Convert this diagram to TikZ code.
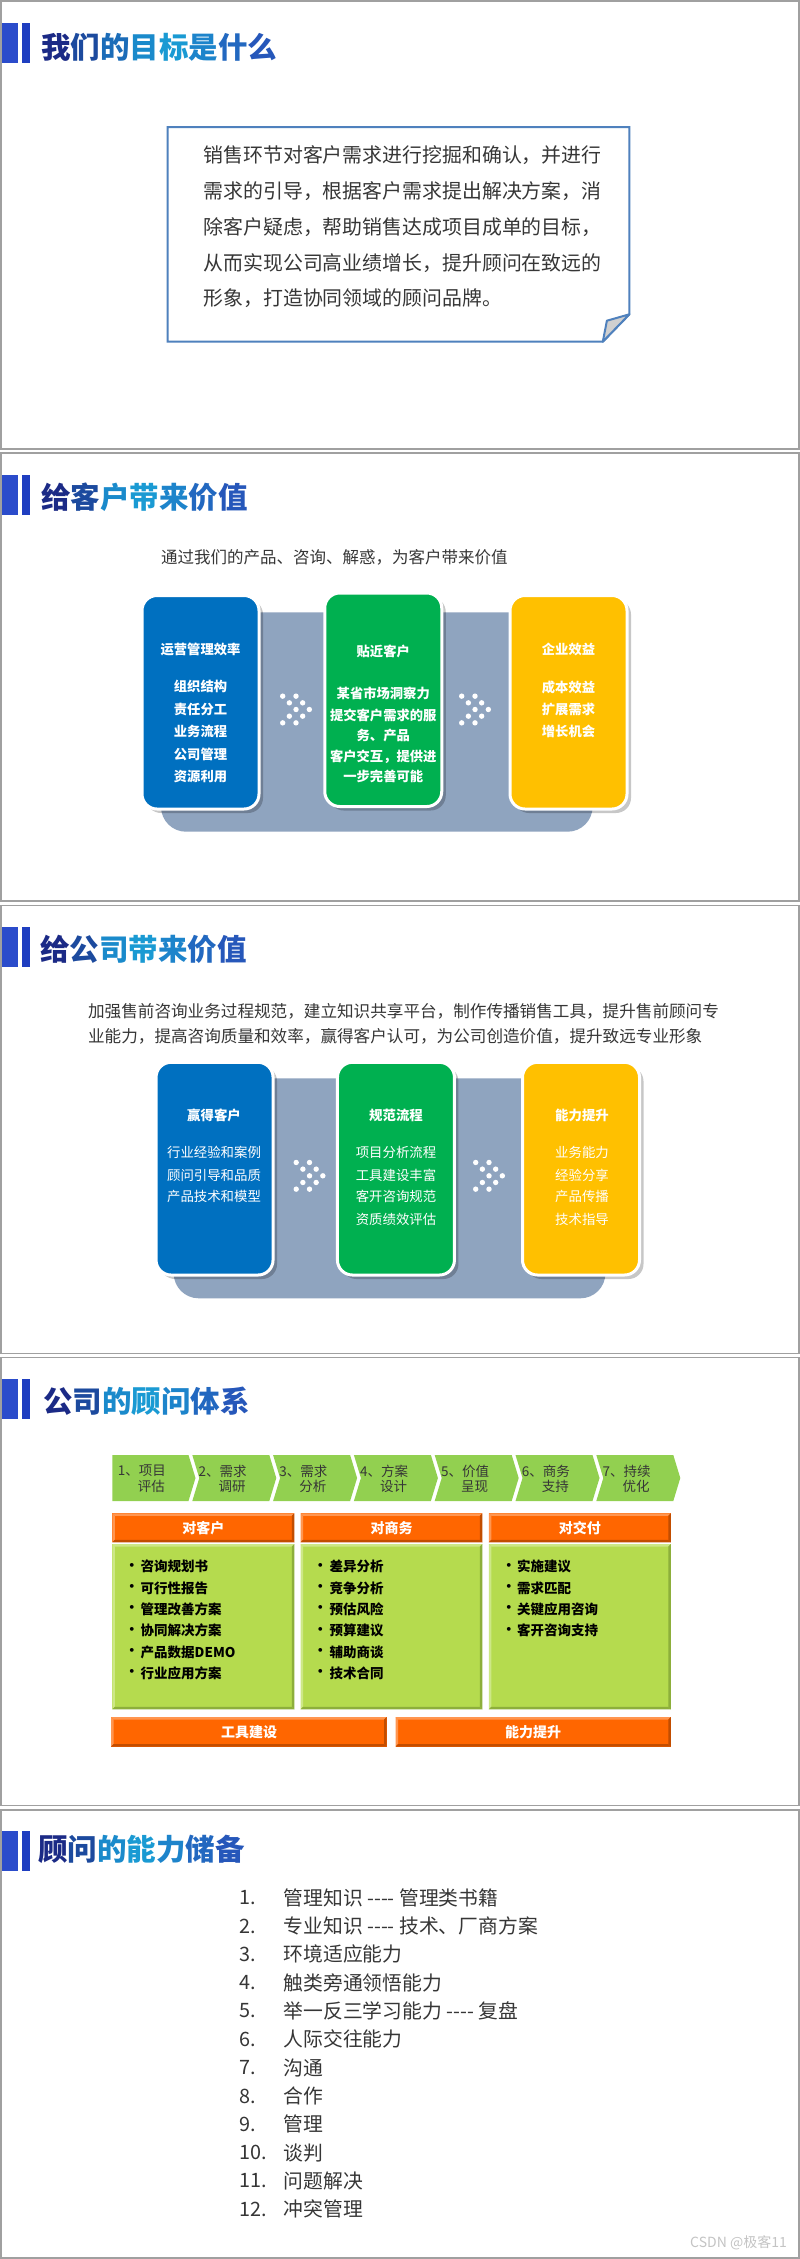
\documentclass[tikz,border=0pt]{standalone}
\usepackage{fontspec}
\setmainfont{Noto Sans CJK SC}
\usetikzlibrary{shadows}
\definecolor{frame}{HTML}{A0A0A0}
\definecolor{barA}{HTML}{2B4CCB}
\definecolor{barB}{HTML}{1F3EC0}
\definecolor{tg1}{HTML}{1B2A86}
\definecolor{tg2}{HTML}{1C4A9E}
\definecolor{tg3}{HTML}{1B6CB8}
\definecolor{tg4}{HTML}{1A8ACB}
\definecolor{tg5}{HTML}{1A9AD3}
\definecolor{tg6}{HTML}{1D84CB}
\definecolor{tg7}{HTML}{2268C0}
\definecolor{tg8}{HTML}{2657BA}
\definecolor{txt}{HTML}{363636}
\definecolor{boxblue}{HTML}{4F81BD}
\definecolor{flap}{HTML}{D0D0D0}
\definecolor{slate}{HTML}{8FA4BF}
\definecolor{cblue}{HTML}{0070C0}
\definecolor{cgreen}{HTML}{00B050}
\definecolor{cyellow}{HTML}{FFC000}
\definecolor{chev}{HTML}{92D050}
\definecolor{org}{HTML}{FF6600}
\definecolor{orgL}{HTML}{FF9650}
\definecolor{orgD}{HTML}{C24D00}
\definecolor{lg}{HTML}{B5DB4E}
\definecolor{lgL}{HTML}{CDE886}
\definecolor{lgD}{HTML}{8DAF3B}
\definecolor{wm}{HTML}{C4C4C4}
\newcommand\tc[1]{\color{tg#1}}
\newcommand\fs[1]{\fontsize{#1}{#1}\selectfont}
\newcommand\hy{-\kern0pt-\kern0pt-\kern0pt-}
\newcommand\bevelbox[8]{%
  \fill[#5] (#1,#2) rectangle (#3,#4);
  \fill[#6] (#1,#2) -- (#3,#2) -- (#3-#8,#2+#8) -- (#1+#8,#2+#8) -- cycle;
  \fill[#6] (#1,#2) -- (#1+#8,#2+#8) -- (#1+#8,#4-#8) -- (#1,#4) -- cycle;
  \fill[#7] (#1,#4) -- (#1+#8,#4-#8) -- (#3-#8,#4-#8) -- (#3,#4) -- cycle;
  \fill[#7] (#3,#2) -- (#3,#4) -- (#3-#8,#4-#8) -- (#3-#8,#2+#8) -- cycle;
}
\newcommand\dotgroup[2]{%
  \foreach \r in {-2,-1,0,1,2}{%
    \pgfmathsetmacro\kk{2-abs(\r)}%
    \fill[white] ({#1-13.3+6.67*\kk},{#2+6.67*\r}) circle[radius=2.7pt];
    \fill[white] ({#1+6.67*\kk},{#2+6.67*\r}) circle[radius=2.7pt];
  }%
}
\newcommand\headbars[1]{%
  \fill[barA] (2,#1) rectangle (18,#1+40);
  \fill[barB] (22,#1) rectangle (30,#1+40);
}
\begin{document}
\begin{tikzpicture}[x=1pt,y=-1pt,
  slideframe/.style={draw=frame, line width=1.5pt},
  ttl/.style={anchor=west, inner sep=0pt, font=\fs{29.5}\bfseries},
  para/.style={anchor=west, inner sep=0pt, text=txt},
  ctxt/.style={inner sep=0pt, text=white, font=\fs{13.3}\bfseries},
  ctxtl/.style={inner sep=0pt, text=white, font=\fs{13.4}},
  card/.style={draw=white, line width=3pt, rounded corners=15pt, inner sep=0pt,
    minimum width=117pt, minimum height=213.5pt,
    drop shadow={shadow xshift=4pt, shadow yshift=-4pt, fill=black, opacity=0.22}},
  chevtxt/.style={anchor=east, inner sep=0pt, text=txt, font=\fs{13.5}},
  hdtxt/.style={inner sep=0pt, text=white, font=\fs{14}\bfseries},
  item/.style={anchor=west, inner sep=0pt, text=black, font=\fs{13.5}\bfseries},
  listtxt/.style={anchor=west, inner sep=0pt, text=txt, font=\fs{19.8}}]
\useasboundingbox (0,0) rectangle (800,2259);
\fill[white] (0,0) rectangle (800,2259);

% slide frames
\foreach \k in {0,...,4}{
  \draw[slideframe] (1,{1+452.2*\k}) rectangle (799,{449+452.2*\k});
}

% ---------- Slide 1 ----------
\headbars{23}
\node[ttl] (t1) at (41,47.5) {\tc1我\tc2们\tc3的\tc4目\tc5标\tc6是\tc7什\tc8么};
\draw[boxblue, line width=2pt, fill=white, line join=miter]
  (167.6,127) -- (629.4,127) -- (629.4,314.3) -- (602.8,341.7) -- (167.6,341.7) -- cycle;
\filldraw[draw=boxblue, fill=flap, line width=2pt, line join=round]
  (629.4,314.3) -- (606.9,320.7) -- (602.8,341.7) -- cycle;
\begin{scope}[every node/.style={para, font=\fs{19.9}}]
\node (g1) at (203.3,155) {销售环节对客户需求进行挖掘和确认，并进行};
\node (g2) at (203.3,190.7) {需求的引导，根据客户需求提出解决方案，消};
\node (g3) at (203.3,226.7) {除客户疑虑，帮助销售达成项目成单的目标，};
\node (g4) at (203.3,262.7) {从而实现公司高业绩增长，提升顾问在致远的};
\node (g5) at (203.3,298.3) {形象，打造协同领域的顾问品牌。};
\end{scope}

% ---------- Slide 2 ----------
\headbars{475}
\node[ttl] (t2) at (41,497.5) {\tc1给\tc2客\tc4户\tc5带\tc6来\tc7价\tc8值};
\node[para, font=\fs{16.5}] (sub2) at (161,557) {通过我们的产品、咨询、解惑，为客户带来价值};
\fill[slate, rounded corners=25pt] (161,612.3) rectangle (592.6,831.7);
\node[card, fill=cblue] (c2a) at (200.5,702.25) {};
\node[card, fill=cgreen] (c2b) at (383.25,699.75) {};
\node[card, fill=cyellow] (c2c) at (568.5,702.25) {};
\dotgroup{296}{709.5}
\dotgroup{475}{709.5}
\node[ctxt] (a0) at (200.5,649.3) {运营管理效率};
\node[ctxt] (a1) at (200.5,686.7) {组织结构};
\node[ctxt] (a2) at (200.5,709.3) {责任分工};
\node[ctxt] (a3) at (200.5,731.7) {业务流程};
\node[ctxt] (a4) at (200.5,754) {公司管理};
\node[ctxt] (a5) at (200.5,776) {资源利用};
\node[ctxt] (b0) at (383.25,651.7) {贴近客户};
\node[ctxt] (b1) at (383.25,693.3) {某省市场洞察力};
\node[ctxt] (b2) at (383.25,715.7) {提交客户需求的服};
\node[ctxt] (b3) at (383.25,735) {务、产品};
\node[ctxt] (b4) at (383.25,756.7) {客户交互，提供进};
\node[ctxt] (b5) at (383.25,776) {一步完善可能};
\node[ctxt] (d0) at (568.5,649.3) {企业效益};
\node[ctxt] (d1) at (568.5,687.3) {成本效益};
\node[ctxt] (d2) at (568.5,709.3) {扩展需求};
\node[ctxt] (d3) at (568.5,731.7) {增长机会};

% ---------- Slide 3 ----------
\headbars{927}
\node[ttl] (t3) at (40,949) {\tc1给\tc2公\tc4司\tc5带\tc6来\tc7价\tc8值};
\node[para, font=\fs{16.6}] (p3a) at (87.9,1011.7) {加强售前咨询业务过程规范，建立知识共享平台，制作传播销售工具，提升售前顾问专};
\node[para, font=\fs{16.6}] (p3b) at (87.9,1036.7) {业能力，提高咨询质量和效率，赢得客户认可，为公司创造价值，提升致远专业形象};
\fill[slate, rounded corners=25pt] (173.7,1078.3) rectangle (605.4,1298.3);
\node[card, fill=cblue, minimum height=212.7pt] (c3a) at (214.55,1168.65) {};
\node[card, fill=cgreen, minimum height=212.7pt] (c3b) at (395.95,1168.65) {};
\node[card, fill=cyellow, minimum height=212.7pt] (c3c) at (581,1168.65) {};
\dotgroup{309.5}{1175.8}
\dotgroup{489}{1175.8}
\node[ctxt, font=\fs{13.4}\bfseries] (e0) at (214,1115) {赢得客户};
\node[ctxtl] (e1) at (214,1152.3) {行业经验和案例};
\node[ctxtl] (e2) at (214,1175) {顾问引导和品质};
\node[ctxtl] (e3) at (214,1196.7) {产品技术和模型};
\node[ctxt, font=\fs{13.4}\bfseries] (f0) at (396,1115) {规范流程};
\node[ctxtl] (f1) at (396,1152.3) {项目分析流程};
\node[ctxtl] (f2) at (396,1175) {工具建设丰富};
\node[ctxtl] (f3) at (396,1196.7) {客开咨询规范};
\node[ctxtl] (f4) at (396,1219) {资质绩效评估};
\node[ctxt, font=\fs{13.4}\bfseries] (h0) at (582,1115) {能力提升};
\node[ctxtl] (h1) at (582,1152.3) {业务能力};
\node[ctxtl] (h2) at (582,1175) {经验分享};
\node[ctxtl] (h3) at (582,1196.7) {产品传播};
\node[ctxtl] (h4) at (582,1219) {技术指导};

% ---------- Slide 4 ----------
\headbars{1379}
\node[ttl] (t4) at (43,1401) {\tc1公\tc2司\tc4的\tc5顾\tc6问\tc7体\tc8系};
\fill[chev] (112.3,1455) -- (188.5,1455) -- (195.5,1478) -- (188.5,1501) -- (112.3,1501) -- cycle;
\foreach \i in {1,...,6}{
  \fill[chev] ({111.5+80.8*\i},1455) -- ({188.5+80.8*\i},1455) -- ({195.5+80.8*\i},1478)
    -- ({188.5+80.8*\i},1501) -- ({111.5+80.8*\i},1501) -- ({118.5+80.8*\i},1478) -- cycle;
}
\foreach \i/\a/\b in {0/1、项目/评估, 1/2、需求/调研, 2/3、需求/分析, 3/4、方案/设计, 4/5、价值/呈现, 5/6、商务/支持, 6/7、持续/优化}{
  \node[chevtxt] (ch\i a) at ({166+80.8*\i},1471) {\a};
  \node[chevtxt] (ch\i b) at ({165+80.8*\i},1486.5) {\b};
}
\bevelbox{112.4}{1513.3}{294.3}{1542.3}{org}{orgL}{orgD}{2.5}
\bevelbox{300.5}{1513.3}{482.4}{1542.3}{org}{orgL}{orgD}{2.5}
\bevelbox{488.9}{1513.3}{670.8}{1542.3}{org}{orgL}{orgD}{2.5}
\bevelbox{112.4}{1544}{294.3}{1709.3}{lg}{lgL}{lgD}{2.5}
\bevelbox{300.5}{1544}{482.4}{1709.3}{lg}{lgL}{lgD}{2.5}
\bevelbox{488.9}{1544}{670.8}{1709.3}{lg}{lgL}{lgD}{2.5}
\bevelbox{111}{1717}{386.7}{1746.7}{org}{orgL}{orgD}{2.5}
\bevelbox{395.5}{1717}{670.8}{1746.7}{org}{orgL}{orgD}{2.5}
\node[hdtxt] (k1) at (203.4,1527.8) {对客户};
\node[hdtxt] (k2) at (391.5,1527.8) {对商务};
\node[hdtxt] (k3) at (579.9,1527.8) {对交付};
\node[hdtxt] (k4) at (249,1732) {工具建设};
\node[hdtxt] (k5) at (533,1732) {能力提升};
\foreach \t [count=\c from 0] in {咨询规划书, 可行性报告, 管理改善方案, 协同解决方案, 产品数据DEMO, 行业应用方案}{
  \node[item] (ua\c) at (125,{1566.7+21.35*\c}) {•};
  \node[item] (va\c) at (140.5,{1566.7+21.35*\c}) {\t};
}
\foreach \t [count=\c from 0] in {差异分析, 竞争分析, 预估风险, 预算建议, 辅助商谈, 技术合同}{
  \node[item] (ub\c) at (313.5,{1566.7+21.35*\c}) {•};
  \node[item] (vb\c) at (329.5,{1566.7+21.35*\c}) {\t};
}
\foreach \t [count=\c from 0] in {实施建议, 需求匹配, 关键应用咨询, 客开咨询支持}{
  \node[item] (uc\c) at (502,{1566.7+21.35*\c}) {•};
  \node[item] (vc\c) at (517,{1566.7+21.35*\c}) {\t};
}

% ---------- Slide 5 ----------
\headbars{1830.5}
\node[ttl] (t5) at (38,1849) {\tc1顾\tc2问\tc4的\tc5能\tc6力\tc7储\tc8备};
\foreach \n/\t [count=\c from 0] in {1./管理知识 \hy{} 管理类书籍, 2./专业知识 \hy{} 技术、厂商方案, 3./环境适应能力, 4./触类旁通领悟能力, 5./举一反三学习能力 \hy{} 复盘, 6./人际交往能力, 7./沟通, 8./合作, 9./管理, 10./谈判, 11./问题解决, 12./冲突管理}{
  \node[listtxt] (n\c) at (239,{1897.7+28.33*\c}) {\n};
  \node[listtxt] (m\c) at (283.5,{1897.7+28.33*\c}) {\t};
}
\node[anchor=east, inner sep=0pt, text=wm, font=\fs{14}] (wmk) at (787,2243) {CSDN @极客11};
\end{tikzpicture}
\end{document}
